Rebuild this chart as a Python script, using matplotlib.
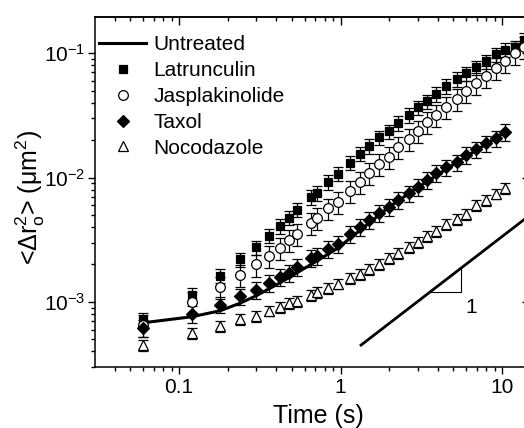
import numpy as np
import matplotlib
matplotlib.use('Agg')
import matplotlib.pyplot as plt
from matplotlib.ticker import LogLocator, FixedLocator, FixedFormatter, NullFormatter

plt.rcParams['font.family'] = ['Liberation Sans', 'DejaVu Sans']
plt.rcParams['mathtext.fontset'] = 'custom'
plt.rcParams['mathtext.rm'] = 'Liberation Sans'
plt.rcParams['mathtext.it'] = 'Liberation Sans:italic'
plt.rcParams['mathtext.default'] = 'regular'

# lag times (s)
times = [0.06, 0.12, 0.18, 0.24, 0.30, 0.36, 0.42, 0.48, 0.54, 0.66, 0.72, 0.84,
         0.96, 1.14, 1.32, 1.50, 1.74, 2.0, 2.28, 2.64, 3.0, 3.42, 3.9, 4.5,
         5.28, 6.0, 6.9, 7.98, 9.18, 10.38, 12.0, 13.68]

latrunculin = [7.2e-4, 1.14e-3, 1.62e-3, 2.2e-3, 2.75e-3, 3.39e-3, 4.07e-3, 4.73e-3,
               5.49e-3, 6.97e-3, 7.5e-3, 9.2e-3, 1.07e-2, 1.31e-2, 1.55e-2, 1.79e-2,
               2.11e-2, 2.36e-2, 2.74e-2, 3.18e-2, 3.68e-2, 4.11e-2, 4.69e-2, 5.43e-2,
               6.18e-2, 6.9e-2, 7.7e-2, 8.6e-2, 9.8e-2, 0.106, 0.111, 0.128]

jasplakinolide = [6.5e-4, 1.0e-3, 1.32e-3, 1.65e-3, 2.0e-3, 2.34e-3, 2.72e-3, 3.15e-3,
                  3.5e-3, 4.3e-3, 4.7e-3, 5.65e-3, 6.35e-3, 7.8e-3, 9.2e-3, 1.09e-2,
                  1.28e-2, 1.46e-2, 1.76e-2, 2.04e-2, 2.36e-2, 2.79e-2, 3.18e-2, 3.68e-2,
                  4.27e-2, 4.95e-2, 5.74e-2, 6.53e-2, 7.58e-2, 8.6e-2, 0.100, 0.112]

taxol = [6.2e-4, 8.0e-4, 9.5e-4, 1.11e-3, 1.25e-3, 1.42e-3, 1.59e-3, 1.71e-3,
         1.91e-3, 2.26e-3, 2.34e-3, 2.67e-3, 2.92e-3, 3.52e-3, 4.0e-3, 4.56e-3,
         5.19e-3, 5.8e-3, 6.6e-3, 7.5e-3, 8.4e-3, 9.55e-3, 1.09e-2, 1.21e-2,
         1.33e-2, 1.52e-2, 1.69e-2, 1.89e-2, 2.07e-2, 2.32e-2]

nocodazole = [4.5e-4, 5.6e-4, 6.4e-4, 7.3e-4, 7.7e-4, 8.5e-4, 9.1e-4, 9.8e-4,
              1.02e-3, 1.14e-3, 1.20e-3, 1.29e-3, 1.40e-3, 1.56e-3, 1.68e-3, 1.84e-3,
              2.02e-3, 2.26e-3, 2.48e-3, 2.77e-3, 3.03e-3, 3.39e-3, 3.72e-3, 4.23e-3,
              4.65e-3, 5.1e-3, 6.0e-3, 6.6e-3, 7.4e-3, 8.2e-3]

# relative error bar half widths
lat_err = 0.13
jas_err = 0.20
tax_err = 0.15
noc_err = 0.10

untreated_t = [0.06, 0.12, 0.18, 0.24, 0.30, 0.42, 0.54, 0.72, 0.96, 1.5, 2.0, 3.0, 5.28, 10.38]
untreated = [6.8e-4, 7.6e-4, 8.5e-4, 9.8e-4, 1.12e-3, 1.42e-3, 1.72e-3, 2.15e-3,
             2.7e-3, 4.3e-3, 5.8e-3, 8.3e-3, 1.33e-2, 2.3e-2]

# slope-one guide line and triangle
guide_t = [1.34, 20.0]
guide_y = [4.5e-4, 6.7e-3]
tri_t = [3.6, 5.6, 5.6]
tri_y = [1.21e-3, 1.21e-3, 1.88e-3]

fig = plt.figure(figsize=(5.24, 4.28), dpi=100)
ax = fig.add_axes([95/524, 61/428, 435/524, 350/428])
ax.set_xscale('log')
ax.set_yscale('log')
ax.set_xlim(0.0302, 14.9)
ax.set_ylim(3.0e-4, 0.195)

ax.plot(untreated_t, untreated, color='black', lw=2.2, zorder=2, label='Untreated')

series = [
    (latrunculin, lat_err, 's', 'black', 5.5, 'Latrunculin'),
    (jasplakinolide, jas_err, 'o', 'white', 7, 'Jasplakinolide'),
    (taxol, tax_err, 'D', 'black', 6, 'Taxol'),
    (nocodazole, noc_err, '^', 'white', 7.5, 'Nocodazole'),
]
for vals, rel, mk, fc, ms, lab in series:
    t = times[:len(vals)]
    v = np.array(vals)
    ax.errorbar(t, v, yerr=v * rel, fmt='none', ecolor='black', elinewidth=0.9,
                capsize=3.5, capthick=0.9, zorder=3)
    ax.plot(t, v, linestyle='none', marker=mk, mfc=fc, mec='black', mew=0.9,
            ms=ms, zorder=4, label=lab)

ax.plot(guide_t, guide_y, color='black', lw=2.0, zorder=2)
ax.plot(tri_t, tri_y, color='black', lw=0.8, zorder=2)
ax.text(5.9, 9.0e-4, '1', fontsize=15, ha='left', va='center')

ax.xaxis.set_major_locator(FixedLocator([0.1, 1, 10]))
ax.xaxis.set_major_formatter(FixedFormatter(['0.1', '1', '10']))
ax.xaxis.set_minor_locator(LogLocator(base=10, subs=np.arange(2, 10), numticks=20))
ax.xaxis.set_minor_formatter(NullFormatter())
ax.yaxis.set_minor_locator(LogLocator(base=10, subs=np.arange(2, 10), numticks=20))
ax.yaxis.set_minor_formatter(NullFormatter())

for s in ax.spines.values():
    s.set_linewidth(1.1)
ax.tick_params(which='both', labelsize=15, width=1.0)
ax.tick_params(axis='x', which='both', direction='out', top=False, pad=3)
ax.tick_params(axis='y', which='both', direction='out', right=False, pad=2)
ax.tick_params(which='major', length=5)
ax.tick_params(which='minor', length=3)

# mirrored axes with inward ticks
axt = ax.secondary_xaxis('top')
axt.xaxis.set_major_locator(FixedLocator([0.1, 1, 10]))
axt.xaxis.set_minor_locator(LogLocator(base=10, subs=np.arange(2, 10), numticks=20))
axt.tick_params(which='both', direction='in', labeltop=False, width=1.0)
axt.tick_params(which='major', length=6)
axt.tick_params(which='minor', length=3)
axt.spines['top'].set_linewidth(1.1)
axr = ax.secondary_yaxis('right')
axr.yaxis.set_minor_locator(LogLocator(base=10, subs=np.arange(2, 10), numticks=20))
axr.tick_params(which='both', direction='in', labelright=False, width=1.0)
axr.tick_params(which='major', length=6)
axr.tick_params(which='minor', length=3)

ax.set_xlabel('Time (s)', fontsize=18)
ax.set_ylabel('<Δr$^2_o$> (μm$^2$)', fontsize=18)
ax.xaxis.set_label_coords(0.513, -0.105)
ax.yaxis.set_label_coords(-0.11, 0.483)

ax.legend(loc='upper left', bbox_to_anchor=(0.01, 0.948), frameon=False,
          fontsize=15, handlelength=2.25, handletextpad=0.35, labelspacing=0.33,
          borderpad=0, borderaxespad=0)

fig.savefig('out.png', dpi=100)
